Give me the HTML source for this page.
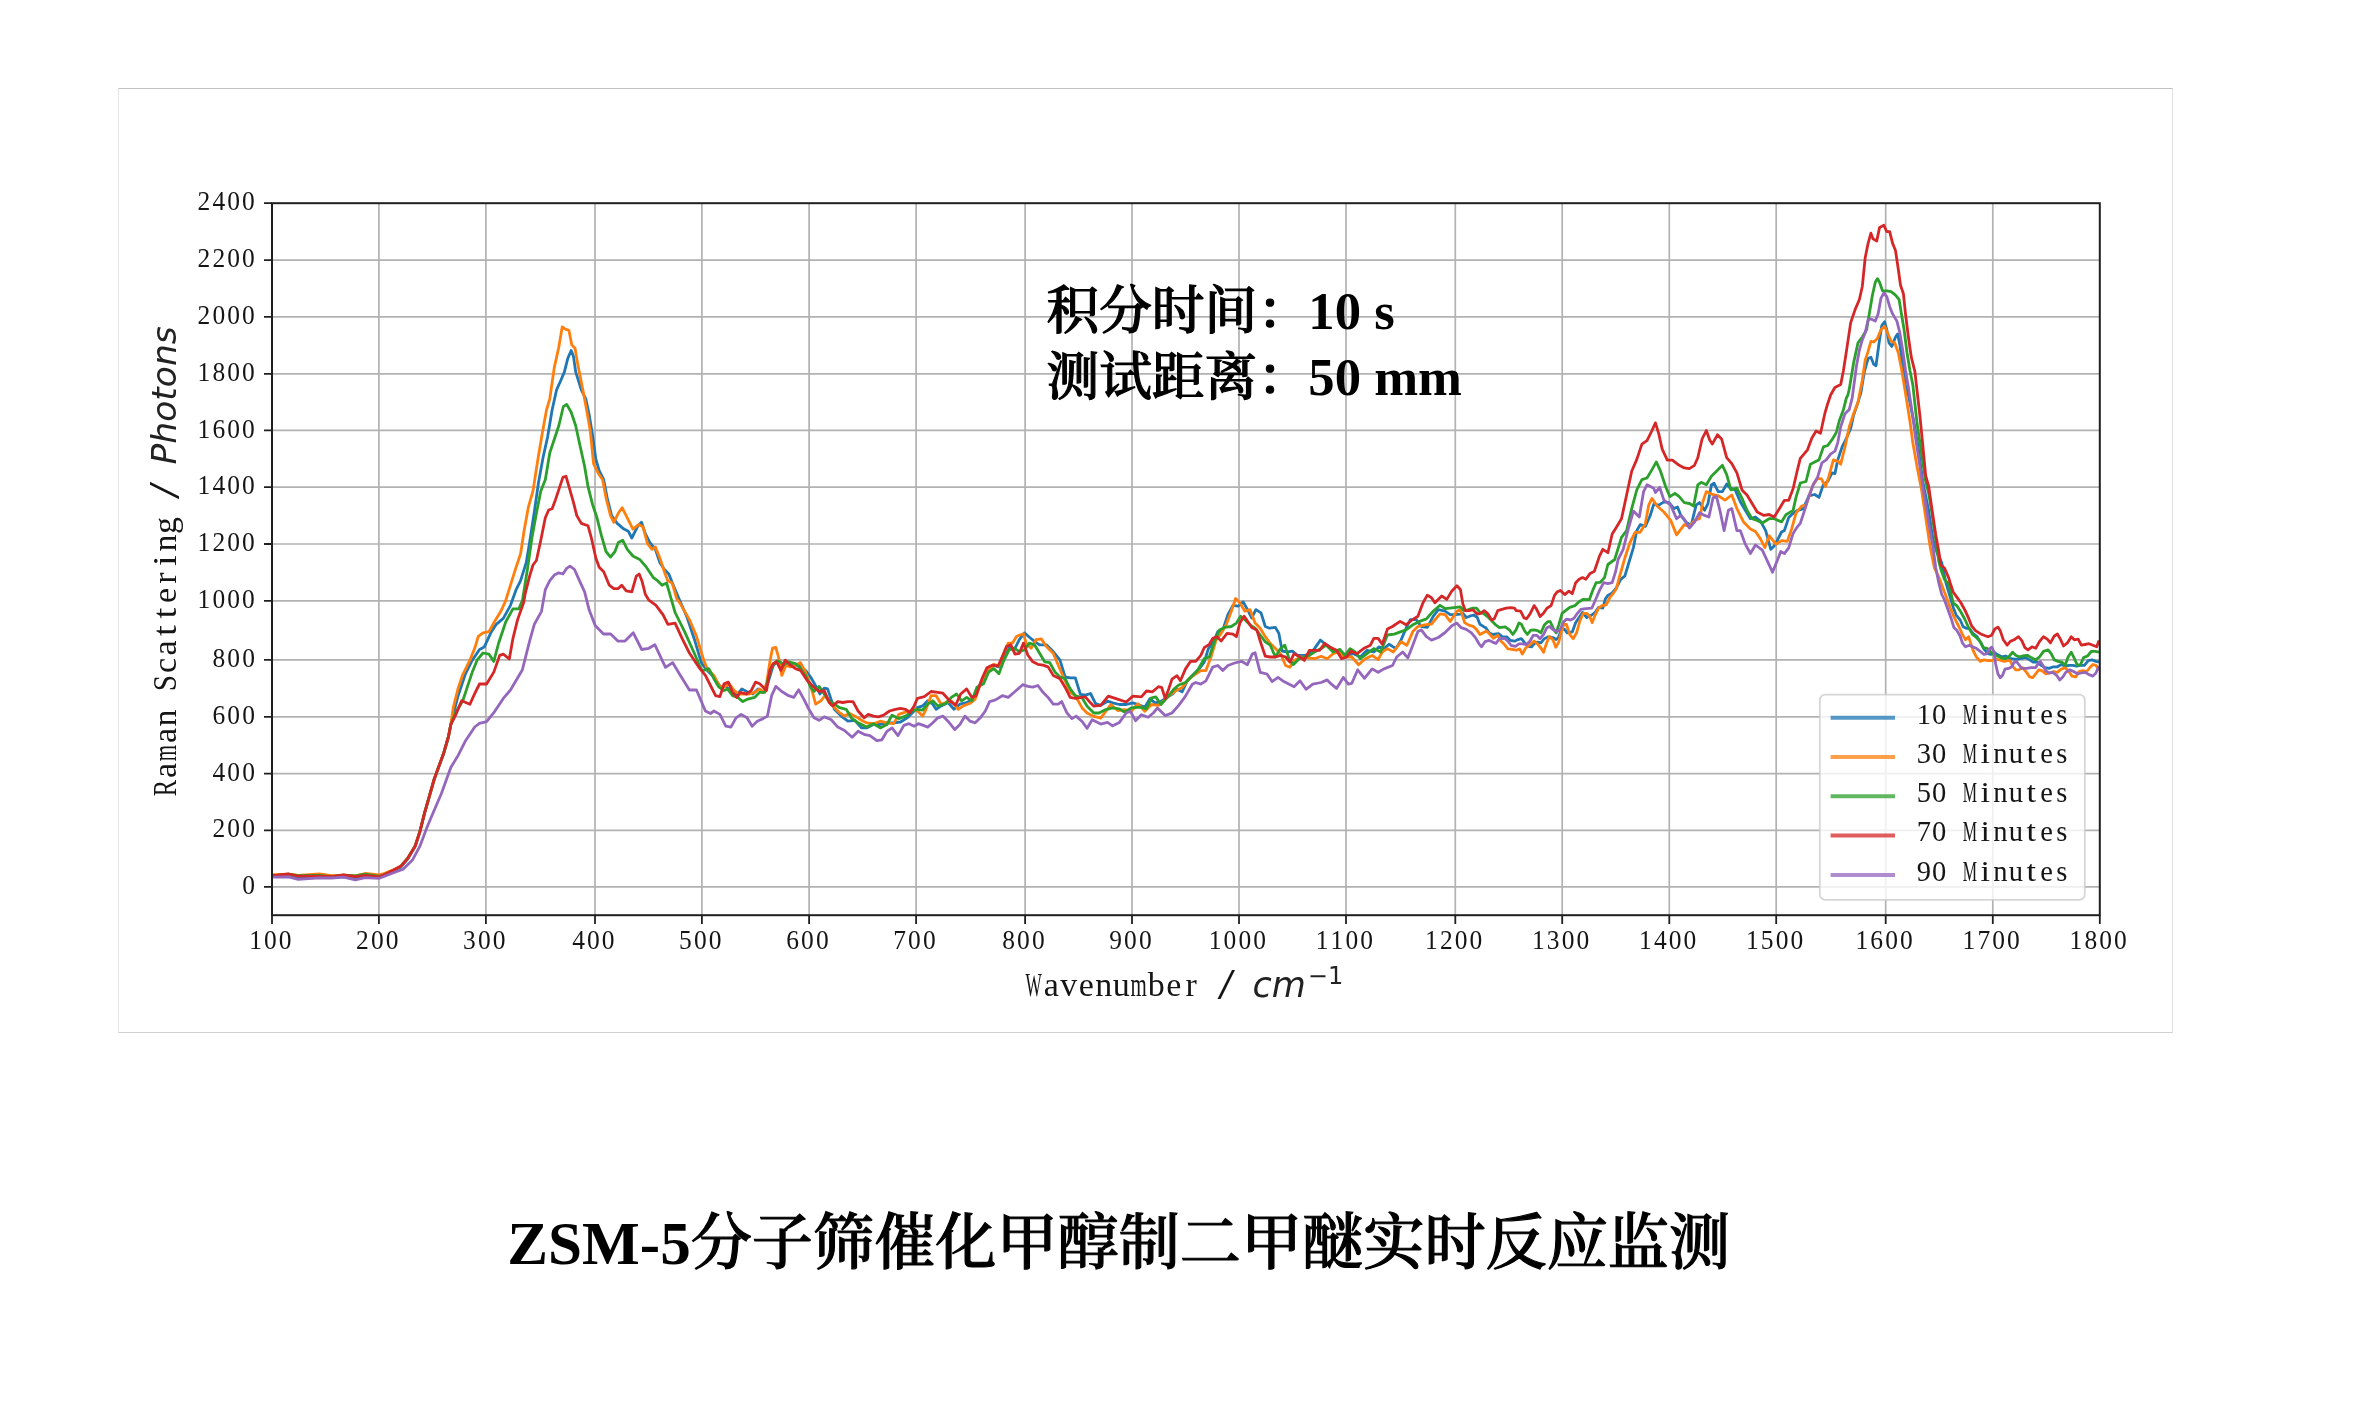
<!DOCTYPE html><html lang="zh"><head><meta charset="utf-8"><title>ZSM-5分子筛催化甲醇制二甲醚实时反应监测</title>
<style>
html,body{margin:0;padding:0;background:#fff}
body{width:2358px;height:1425px;position:relative;overflow:hidden}
svg{position:absolute;left:0;top:0;display:block;filter:blur(0.55px)}
.cap{position:absolute;margin:0;white-space:nowrap;color:#000;font-weight:bold;font-family:"Liberation Serif","Noto Serif CJK SC",serif}
#frame{position:absolute;left:118px;top:88px;width:2053px;height:943px;border:1px solid;border-color:#c2c2c2 #e0e0e0 #d0d0d0 #e6e6e6;background:#fff}
#title{left:507.3px;top:1209.3px;font-size:61.15px;line-height:70px}
#note{left:1046.5px;font-size:52.7px;line-height:66.3px}
.co{letter-spacing:-1.6px}
.cj{font-weight:500;-webkit-text-stroke:1.15px #000}
</style></head><body>
<div id="frame"></div>
<svg width="2358" height="1425" viewBox="0 0 2358 1425">
<path d="M378.9 203.2V915.2M485.9 203.2V915.2M595.0 203.2V915.2M701.9 203.2V915.2M809.1 203.2V915.2M916.1 203.2V915.2M1025.1 203.2V915.2M1132.0 203.2V915.2M1239.0 203.2V915.2M1346.0 203.2V915.2M1455.3 203.2V915.2M1562.2 203.2V915.2M1669.3 203.2V915.2M1776.2 203.2V915.2M1885.7 203.2V915.2M1992.8 203.2V915.2M272.0 886.9H2099.8M272.0 830.3H2099.8M272.0 773.6H2099.8M272.0 716.8H2099.8M272.0 659.8H2099.8M272.0 600.9H2099.8M272.0 544.0H2099.8M272.0 487.2H2099.8M272.0 430.4H2099.8M272.0 373.8H2099.8M272.0 316.8H2099.8M272.0 260.1H2099.8" stroke="#b2b2b2" stroke-width="1.7" fill="none"/>
<g fill="none" stroke-width="2.8" stroke-linejoin="round" stroke-linecap="butt">
<polyline points="273.1,875.7 288.6,875.7 298.2,877.8 319.6,875.8 331.6,876.8 343.5,876.5 355.4,878.3 365.0,876.0 379.3,876.4 384.0,874.7 393.6,870.7 400.7,867.3 407.9,858.8 415.1,846.6 419.8,832.1 424.6,812.9 429.4,796.2 434.1,779.5 438.9,766.3 443.7,753.2 448.5,736.5 450.8,724.6 453.2,715.1 458.0,696.0 465.2,674.5 472.3,660.2 479.5,649.5 484.2,647.1 491.4,631.6 496.2,624.4 503.3,618.4 510.5,605.3 516.1,589.7 520.6,580.7 526.2,562.7 529.6,542.5 534.1,513.3 538.6,481.9 543.1,457.2 547.6,437.0 552.1,410.0 556.6,389.8 561.1,379.7 564.4,371.9 567.8,358.4 571.2,350.5 573.4,356.1 575.7,371.9 581.3,389.8 585.8,398.8 589.1,414.5 592.5,434.7 595.9,459.4 599.2,470.7 603.7,479.7 607.1,497.6 611.6,515.6 617.2,523.4 623.9,529.1 628.4,531.3 631.8,538.0 637.4,526.8 641.5,522.3 645.3,533.6 649.8,542.5 655.4,549.3 659.9,562.7 664.4,569.5 668.8,574.0 673.3,585.2 679.0,598.7 687.0,617.3 694.2,638.7 701.3,662.6 707.1,670.3 713.9,677.0 720.7,687.2 725.8,685.5 730.9,692.3 737.7,694.0 741.9,688.9 747.9,692.3 752.9,694.0 758.0,688.9 763.1,692.3 768.2,682.1 773.3,665.2 777.5,661.8 781.8,668.6 786.9,661.8 792.0,665.2 798.7,665.2 805.5,670.3 810.6,677.0 817.4,688.9 819.9,694.0 824.2,688.1 827.6,688.9 831.0,699.1 834.4,709.3 841.2,716.1 847.9,721.2 854.7,720.3 861.5,727.9 866.6,727.9 873.4,724.5 880.2,724.5 887.0,722.8 893.7,722.8 900.5,722.0 907.3,717.8 912.4,712.7 917.5,707.6 922.6,705.9 927.7,700.8 932.8,704.2 936.1,709.3 941.2,705.9 948.0,702.5 954.0,709.3 959.9,704.2 966.7,702.5 973.5,699.1 980.3,683.8 987.0,672.0 993.8,665.2 998.9,666.9 1004.0,655.0 1009.1,648.2 1014.2,649.9 1019.3,639.7 1024.4,632.9 1029.4,637.2 1034.5,641.4 1039.6,644.8 1046.4,644.8 1053.2,651.6 1060.0,660.1 1065.1,677.0 1070.2,677.9 1075.3,677.9 1080.4,694.4 1085.4,695.2 1090.5,693.5 1095.6,703.7 1100.7,705.4 1107.5,701.2 1112.6,702.8 1119.4,704.5 1126.2,704.5 1132.9,702.8 1138.0,704.5 1144.8,707.1 1149.9,698.6 1155.0,702.8 1160.1,702.0 1165.2,698.6 1172.0,694.4 1177.0,689.3 1182.1,691.8 1187.2,680.8 1194.0,674.0 1199.1,668.9 1204.2,662.1 1208.4,648.6 1213.5,641.8 1217.8,631.6 1222.8,629.9 1227.9,614.6 1233.0,605.3 1238.1,606.2 1243.2,601.9 1248.3,611.2 1251.7,618.0 1255.9,609.6 1261.0,612.9 1265.3,626.5 1269.5,628.2 1275.4,627.4 1278.8,633.3 1282.2,651.1 1287.3,652.0 1292.4,651.1 1297.5,655.4 1304.3,655.4 1309.4,654.5 1314.5,648.6 1320.4,640.1 1324.6,643.5 1329.7,646.9 1334.8,650.3 1339.9,652.0 1346.7,655.4 1353.5,653.7 1360.3,657.0 1367.0,650.3 1373.8,652.0 1378.9,646.9 1384.0,648.6 1389.1,644.3 1395.9,648.6 1401.0,640.1 1406.1,628.2 1410.3,619.7 1416.2,619.7 1421.3,626.5 1427.3,627.4 1433.2,616.3 1438.3,609.6 1445.1,611.2 1450.2,614.6 1455.3,614.6 1460.4,614.1 1462.9,613.3 1466.3,617.5 1469.7,616.2 1473.9,615.0 1477.3,617.5 1479.9,624.3 1483.3,626.4 1485.8,627.7 1489.2,632.8 1492.6,634.5 1498.5,633.6 1502.8,637.0 1507.0,637.0 1510.4,640.4 1514.6,641.2 1518.0,639.6 1521.4,638.7 1524.8,642.9 1528.2,646.3 1531.6,646.8 1534.1,643.8 1537.5,642.1 1540.9,642.9 1544.3,638.7 1547.7,637.0 1550.3,637.0 1553.7,637.9 1556.2,639.6 1558.7,637.0 1561.3,629.4 1564.7,629.4 1567.2,632.8 1572.3,631.9 1575.7,622.6 1579.1,617.5 1582.5,612.4 1586.7,617.5 1591.8,615.0 1595.2,612.4 1598.6,607.3 1602.8,608.2 1605.4,598.8 1607.9,595.4 1612.2,592.9 1616.4,587.8 1620.7,579.3 1624.9,575.9 1628.3,564.5 1633.4,547.6 1636.8,530.6 1640.2,524.7 1645.3,526.4 1650.3,515.4 1653.7,504.3 1658.8,505.2 1663.9,501.8 1669.0,502.6 1674.1,508.6 1677.5,506.9 1680.9,515.4 1686.0,522.1 1691.1,525.5 1696.1,505.2 1699.5,502.6 1704.6,510.3 1708.0,503.5 1711.4,484.8 1714.0,483.1 1718.2,491.6 1722.4,491.6 1726.7,484.0 1730.1,488.2 1735.2,489.9 1740.3,501.8 1745.3,510.3 1750.4,518.7 1755.5,517.0 1760.6,521.3 1765.7,530.6 1770.8,549.3 1774.2,545.9 1777.2,540.6 1781.5,532.0 1784.4,530.5 1788.7,517.6 1791.6,514.7 1797.4,510.4 1803.2,508.9 1808.9,495.9 1814.7,494.5 1819.0,497.4 1823.4,484.4 1827.7,481.5 1832.0,472.9 1834.9,473.6 1837.8,459.9 1842.1,446.9 1846.4,438.3 1850.7,428.2 1853.6,415.2 1858.0,402.2 1860.8,393.2 1864.4,371.6 1868.1,358.6 1870.9,357.2 1873.8,364.4 1876.0,365.8 1878.9,344.2 1881.8,325.5 1884.6,321.8 1886.8,329.8 1889.0,342.8 1891.8,346.4 1895.5,337.0 1897.6,334.1 1899.8,344.2 1902.7,365.8 1905.5,386.0 1908.4,395.0 1914.2,423.8 1918.5,449.8 1922.8,481.5 1928.6,510.4 1932.9,539.2 1937.3,553.6 1941.6,562.3 1945.9,582.5 1953.2,607.4 1956.2,615.1 1960.1,619.8 1963.2,626.7 1966.3,628.3 1969.4,628.3 1973.2,633.7 1977.1,636.7 1980.9,642.9 1984.0,649.1 1987.9,653.7 1991.0,654.5 1994.1,652.2 1997.2,654.5 2001.8,656.8 2005.6,656.0 2009.5,658.4 2014.1,659.1 2018.0,659.1 2021.8,658.4 2025.7,657.6 2029.6,659.9 2033.4,662.2 2037.3,662.2 2041.1,665.3 2045.0,667.6 2048.9,668.4 2053.5,666.8 2057.4,666.8 2061.2,664.5 2065.1,666.1 2068.9,665.3 2072.8,665.3 2076.7,666.1 2080.5,665.3 2084.4,665.3 2088.2,660.7 2092.1,659.9 2095.9,661.4 2099.0,662.2" stroke="#1f77b4"/>
<polyline points="273.1,874.6 288.6,874.1 298.2,875.5 319.6,874.0 331.6,875.7 343.5,875.1 355.4,875.9 365.0,873.5 379.3,874.9 384.0,873.5 393.6,869.8 400.7,866.3 407.9,857.9 415.1,846.0 419.8,831.8 424.6,812.8 429.4,796.2 434.1,779.5 438.9,766.3 443.7,753.2 448.5,736.5 450.8,724.6 453.2,707.9 458.0,688.8 462.8,674.5 469.9,660.2 474.7,648.3 478.3,636.3 483.0,632.8 489.0,631.6 495.0,620.8 500.9,611.3 505.7,600.6 510.5,585.2 516.1,567.2 520.6,553.8 524.0,531.3 528.5,506.6 533.0,490.9 537.5,461.7 542.0,434.7 546.5,410.0 549.8,398.8 554.3,367.4 558.8,347.2 562.2,326.9 565.5,329.2 568.9,330.3 571.8,344.9 575.0,348.3 577.9,365.1 582.4,387.6 585.8,405.5 590.2,430.2 593.6,463.9 598.1,472.9 602.6,479.7 606.0,497.6 610.5,515.6 613.8,522.3 618.3,513.3 622.1,507.7 627.3,517.8 632.9,529.1 638.5,524.6 643.0,526.8 647.5,543.7 652.0,549.3 655.4,547.0 659.9,558.3 664.4,571.7 667.7,580.7 672.2,583.0 676.7,598.7 679.8,602.9 689.4,619.6 696.5,636.3 703.7,660.1 707.1,668.6 713.9,675.4 719.0,685.5 724.1,687.2 729.2,683.8 734.3,690.6 739.4,694.0 744.5,694.0 749.6,694.0 754.6,692.3 759.7,688.9 763.1,692.3 766.5,683.8 769.9,661.8 772.5,648.2 775.8,647.4 778.4,656.7 781.8,675.4 786.0,665.2 790.3,666.9 795.4,665.2 800.4,662.6 805.5,672.0 810.6,685.5 815.7,704.2 820.8,700.8 825.0,695.7 829.3,702.5 834.4,707.6 839.5,712.7 844.5,716.1 849.6,713.5 856.4,716.9 863.2,721.2 866.6,722.8 873.4,723.7 880.2,721.2 887.0,722.8 893.7,723.7 898.8,714.4 903.9,712.7 909.0,711.0 915.8,709.3 922.6,716.1 926.0,709.3 931.1,695.7 936.1,695.7 941.2,704.2 946.3,702.5 951.4,700.8 958.2,709.3 963.3,705.9 970.1,703.3 975.2,699.1 981.1,682.1 987.0,672.0 993.8,664.3 998.9,666.0 1003.2,655.0 1008.2,643.1 1012.5,643.1 1016.7,636.3 1023.5,633.8 1026.1,643.1 1031.1,648.2 1036.2,639.7 1041.3,638.9 1046.4,646.5 1053.2,653.3 1058.3,665.2 1063.4,677.0 1070.2,692.3 1075.3,695.7 1082.1,707.9 1087.1,713.0 1093.9,716.4 1100.7,718.1 1105.8,711.3 1110.9,704.5 1117.7,710.5 1124.5,709.6 1131.2,711.3 1138.0,703.7 1144.8,711.3 1151.6,704.5 1158.4,705.4 1163.5,701.2 1168.6,696.1 1175.4,691.0 1182.1,687.6 1188.9,679.1 1195.7,674.0 1200.8,670.6 1205.9,670.6 1211.0,657.0 1216.1,640.1 1221.2,633.3 1226.2,624.8 1231.3,611.2 1235.6,598.5 1239.8,602.8 1244.9,611.2 1250.0,609.6 1255.1,623.1 1260.2,628.2 1265.3,636.7 1270.3,643.5 1275.4,648.6 1280.5,653.7 1285.6,665.5 1289.9,667.2 1294.1,660.4 1300.9,657.0 1307.7,657.9 1314.5,658.7 1321.2,656.2 1327.2,658.7 1333.1,653.7 1338.2,652.0 1345.0,657.0 1351.8,657.0 1358.6,664.7 1365.3,658.7 1372.1,655.4 1378.1,659.6 1382.3,652.0 1387.4,648.6 1393.3,652.0 1401.0,641.8 1406.9,645.2 1412.8,631.6 1417.9,626.5 1424.7,624.8 1431.5,624.0 1440.0,613.8 1445.1,614.6 1450.2,621.4 1456.9,611.2 1459.9,609.9 1462.1,614.1 1464.6,622.6 1468.8,625.1 1473.1,626.4 1476.5,629.4 1479.9,634.5 1483.3,632.8 1486.6,631.1 1490.0,634.5 1493.4,638.3 1497.7,635.3 1501.1,641.2 1504.5,644.6 1507.9,648.9 1512.1,649.3 1516.3,650.2 1519.7,648.9 1522.3,654.0 1525.7,648.0 1529.9,644.6 1534.1,641.2 1537.5,643.8 1540.9,648.0 1543.5,652.3 1546.9,642.1 1549.4,636.6 1552.8,639.6 1555.8,647.2 1558.7,642.1 1561.3,631.9 1563.8,624.3 1566.4,624.3 1569.8,634.5 1573.2,638.7 1576.6,632.8 1579.9,620.9 1583.3,613.3 1586.7,613.3 1589.3,615.8 1592.2,622.6 1595.2,615.0 1598.6,608.2 1602.0,605.6 1606.2,604.8 1609.6,598.0 1613.0,593.7 1616.4,588.7 1619.0,578.5 1624.9,557.8 1630.0,542.5 1635.1,532.3 1640.2,532.3 1645.3,523.8 1648.7,505.2 1652.0,498.4 1657.1,506.0 1663.9,512.0 1670.7,520.4 1676.6,534.9 1684.3,524.7 1689.4,526.4 1694.5,520.4 1699.5,518.7 1702.9,501.8 1706.3,491.6 1711.4,494.1 1718.2,495.8 1725.0,500.1 1731.8,495.0 1736.9,508.6 1743.6,522.1 1750.4,528.9 1755.5,531.5 1760.6,539.1 1764.9,547.6 1769.1,535.7 1775.9,544.2 1781.5,540.6 1787.3,541.4 1791.6,529.1 1796.0,513.2 1801.7,506.0 1806.0,505.3 1809.7,494.5 1813.3,484.4 1817.6,478.6 1821.2,478.6 1825.5,486.6 1829.1,475.7 1833.4,459.9 1837.8,461.3 1840.7,464.2 1845.0,446.9 1849.3,426.7 1853.6,413.7 1858.0,402.2 1862.3,380.2 1865.2,360.1 1868.1,351.4 1870.9,341.3 1873.8,342.0 1877.4,338.4 1881.0,329.8 1884.6,326.2 1887.5,332.7 1891.1,341.3 1894.7,342.8 1898.3,352.8 1901.2,367.3 1904.1,384.6 1909.9,421.0 1912.8,442.6 1917.1,467.1 1921.4,488.7 1925.7,517.6 1930.1,546.4 1934.4,568.0 1938.7,576.7 1943.0,588.2 1947.4,600.0 1950.1,607.4 1953.2,615.1 1956.2,621.3 1959.3,627.5 1962.4,634.4 1965.5,639.8 1968.6,636.7 1970.1,641.4 1973.2,650.6 1976.3,656.8 1980.2,661.4 1984.0,659.9 1987.9,660.7 1991.7,660.7 1995.6,659.1 1999.5,659.9 2004.1,661.4 2007.2,660.7 2010.3,660.7 2012.6,666.1 2015.7,669.9 2018.8,669.9 2022.6,667.6 2026.5,672.3 2029.6,676.9 2032.7,677.7 2035.7,673.8 2038.8,669.9 2041.9,670.7 2045.8,673.8 2049.6,673.0 2053.5,671.5 2057.4,672.3 2061.2,669.2 2065.1,667.6 2068.9,671.5 2072.0,676.1 2075.9,676.9 2079.0,671.5 2082.8,670.7 2086.7,671.5 2089.8,667.6 2092.9,664.5 2095.9,665.3 2099.0,669.9" stroke="#ff7f0e"/>
<polyline points="273.1,875.8 288.6,874.1 298.2,875.6 319.6,875.4 331.6,876.7 343.5,875.2 355.4,876.0 365.0,874.2 379.3,876.3 384.0,874.8 393.6,870.3 400.7,866.4 407.9,857.9 415.1,846.1 419.8,831.9 424.6,812.9 429.4,796.2 434.1,779.5 438.9,766.3 443.7,753.2 448.5,736.5 450.8,724.6 455.6,712.7 462.8,700.7 467.5,686.4 472.3,672.1 477.1,660.2 483.0,653.0 489.0,654.2 493.8,661.4 498.5,643.5 505.7,622.0 512.9,608.9 518.8,608.9 522.4,600.6 527.4,569.5 531.9,538.0 536.4,513.3 540.8,490.9 545.3,479.7 549.8,452.7 554.3,439.2 558.8,425.8 563.3,406.7 566.7,404.4 571.2,412.3 575.7,425.8 580.1,446.0 584.6,466.2 588.0,486.4 592.5,504.4 597.0,517.8 601.5,535.8 606.0,551.5 610.5,557.1 615.0,551.5 618.3,542.5 622.8,540.3 627.3,549.3 632.9,556.0 639.7,559.4 646.4,567.2 653.1,577.3 657.6,580.7 662.1,585.2 666.6,583.0 671.1,598.7 675.1,612.5 684.6,631.6 694.2,653.0 701.3,669.7 703.7,670.3 708.8,668.6 713.9,678.7 719.0,687.2 724.1,690.6 727.5,688.9 732.6,695.7 737.7,697.4 742.8,701.6 747.9,699.1 754.6,697.4 759.7,692.3 764.8,692.3 768.2,678.7 772.5,665.2 776.7,660.9 780.1,661.8 783.5,665.2 788.6,661.8 795.4,663.5 800.4,668.6 805.5,675.4 810.6,687.2 814.0,691.5 819.1,686.4 824.2,694.0 829.3,700.8 834.4,704.2 839.5,707.6 846.2,709.3 851.3,717.8 858.1,722.8 866.6,727.1 873.4,723.7 880.2,727.9 887.0,724.5 892.0,715.2 898.8,718.6 905.6,716.1 912.4,711.0 917.5,709.3 922.6,710.1 927.7,704.2 932.8,700.8 937.8,705.9 944.6,704.2 951.4,697.4 956.5,694.0 961.6,700.8 966.7,697.4 971.8,700.8 976.9,687.2 983.6,683.8 988.7,672.0 993.8,668.6 998.9,673.7 1004.0,660.1 1009.1,649.9 1014.2,648.2 1019.3,651.6 1024.4,649.9 1029.4,643.1 1034.5,644.8 1039.6,653.3 1044.7,661.8 1049.8,662.6 1054.9,672.0 1060.0,677.0 1065.1,678.7 1070.2,688.9 1075.3,695.7 1082.1,697.8 1087.1,706.2 1093.9,713.0 1099.0,713.0 1105.8,709.6 1112.6,707.9 1119.4,708.8 1124.5,712.2 1131.2,707.9 1139.7,707.1 1146.5,708.8 1151.6,697.8 1155.8,696.9 1160.9,704.5 1166.9,697.8 1173.7,689.3 1178.7,685.0 1185.5,682.5 1192.3,675.7 1197.4,670.6 1204.2,658.7 1209.3,657.0 1214.4,641.8 1219.5,629.9 1224.5,627.4 1231.3,626.5 1236.4,623.1 1240.7,616.3 1244.9,619.7 1250.0,624.8 1255.1,628.2 1260.2,635.0 1265.3,641.8 1270.3,645.2 1275.4,657.0 1280.5,648.6 1284.8,645.2 1289.0,658.7 1293.2,664.7 1299.2,658.7 1304.3,657.0 1309.4,655.4 1316.1,651.1 1321.2,648.6 1326.3,645.2 1333.1,652.0 1339.9,649.4 1345.0,655.4 1350.1,648.6 1355.2,652.0 1360.3,658.7 1367.0,653.7 1373.8,648.6 1380.6,652.0 1387.4,635.0 1394.2,634.1 1401.0,631.6 1406.1,629.9 1412.8,624.8 1419.6,621.4 1426.4,618.9 1433.2,611.2 1440.0,605.3 1445.1,608.7 1451.9,607.9 1460.4,606.9 1463.7,610.7 1468.0,609.9 1472.2,608.2 1476.5,608.2 1479.9,612.4 1483.3,613.3 1487.5,616.6 1490.9,620.0 1495.1,624.3 1499.4,627.7 1505.3,626.8 1509.6,630.2 1512.9,634.5 1516.3,629.4 1518.9,623.0 1521.4,624.3 1524.8,631.1 1527.4,634.5 1530.8,630.2 1534.1,629.8 1537.5,630.6 1540.9,632.8 1544.3,625.1 1547.7,621.7 1550.3,621.7 1553.7,629.4 1556.2,632.8 1558.7,625.1 1562.1,613.3 1565.5,610.7 1569.8,607.3 1574.9,605.6 1579.1,601.8 1583.3,599.3 1589.3,599.7 1592.7,590.4 1596.1,582.7 1600.3,582.3 1604.5,577.6 1607.9,564.5 1614.7,559.5 1621.5,537.4 1626.6,530.6 1631.7,508.6 1636.8,489.9 1641.9,479.7 1647.0,478.0 1652.0,469.6 1656.3,461.9 1660.5,471.2 1665.6,486.5 1669.9,496.7 1674.9,493.3 1679.2,496.7 1684.3,502.6 1689.4,503.5 1693.6,506.0 1697.8,484.8 1701.2,482.3 1706.3,484.8 1711.4,476.3 1716.5,471.2 1722.4,465.3 1726.7,474.6 1730.9,489.9 1736.9,488.2 1742.0,498.4 1747.0,510.3 1752.1,518.7 1757.2,520.4 1762.3,523.0 1769.1,518.7 1774.2,518.7 1781.5,521.9 1785.9,514.7 1793.1,510.4 1796.0,497.4 1800.3,483.0 1806.0,481.5 1810.4,464.2 1816.1,461.3 1819.0,459.9 1823.4,446.9 1827.7,445.5 1832.0,439.7 1836.3,432.5 1839.2,421.0 1843.5,409.4 1846.4,397.9 1847.9,395.0 1849.3,388.9 1853.6,362.9 1858.0,342.8 1862.3,337.0 1866.6,329.8 1869.5,312.5 1872.4,295.2 1875.3,282.2 1877.4,278.6 1879.6,282.2 1882.5,290.8 1886.8,290.8 1891.1,291.6 1895.5,295.2 1899.1,299.5 1901.2,312.5 1904.1,329.8 1907.0,352.8 1909.9,370.2 1912.8,384.6 1917.1,423.8 1921.4,452.7 1925.7,481.5 1928.6,493.1 1931.5,510.4 1935.8,540.6 1938.7,560.8 1940.9,569.5 1944.5,579.6 1948.8,583.9 1953.2,602.8 1957.0,605.9 1960.9,612.0 1964.7,619.0 1968.6,627.5 1972.5,634.4 1976.3,637.5 1980.2,641.4 1983.3,647.6 1987.1,648.3 1991.0,652.2 1994.8,655.3 1998.7,656.4 2002.6,658.4 2005.6,658.7 2009.5,656.0 2012.6,652.2 2015.7,655.3 2018.8,656.8 2022.6,656.0 2027.3,655.3 2031.1,657.6 2035.7,659.9 2039.6,656.8 2043.5,651.4 2048.1,649.9 2051.2,653.7 2054.3,659.9 2058.1,661.4 2062.0,662.2 2065.1,665.3 2068.2,656.8 2071.2,652.2 2074.3,658.4 2077.4,665.3 2080.5,664.5 2083.6,657.6 2087.5,656.0 2091.3,651.4 2095.2,651.4 2099.0,652.2" stroke="#2ca02c"/>
<polyline points="273.1,875.7 288.6,874.0 298.2,876.1 319.6,876.2 331.6,876.6 343.5,875.0 355.4,876.7 365.0,875.4 379.3,876.8 384.0,874.9 393.6,870.0 400.7,866.3 407.9,858.1 415.1,846.3 419.8,832.0 424.6,812.9 429.4,796.2 434.1,779.5 438.9,766.3 443.7,753.2 448.5,736.5 450.8,724.6 455.6,715.1 461.6,700.7 469.9,704.3 474.7,693.6 479.5,684.0 486.6,684.0 493.8,672.1 499.7,655.4 503.3,654.2 509.3,659.0 512.9,638.7 517.6,619.6 523.6,602.9 525.1,594.2 529.6,576.2 533.0,565.0 536.4,560.5 540.8,540.3 545.3,517.8 548.7,510.0 552.1,508.8 555.4,499.9 559.9,486.4 562.9,477.4 566.0,476.3 568.9,486.4 573.4,502.1 576.8,515.6 581.3,523.4 588.0,525.7 591.4,538.0 595.9,558.3 599.2,567.2 603.7,571.7 609.3,585.2 613.8,588.6 618.3,588.6 621.7,585.2 626.2,590.8 631.8,591.9 636.3,576.2 639.2,574.0 641.9,580.7 645.3,594.2 648.6,599.8 656.0,605.3 663.1,614.9 667.9,624.4 675.1,623.2 682.2,638.7 689.4,653.0 698.9,667.3 705.4,675.4 710.5,685.5 715.6,695.7 719.9,696.6 724.1,683.8 728.3,682.1 732.6,692.3 736.8,697.4 740.2,692.3 746.2,694.0 751.2,690.6 755.5,682.1 759.7,683.8 766.5,690.6 769.9,670.3 773.3,663.5 776.7,661.8 780.9,670.3 785.2,660.1 790.3,665.2 795.4,668.6 800.4,670.3 807.2,680.4 814.0,687.2 819.1,691.5 824.2,690.6 829.3,702.5 832.7,705.9 837.8,701.6 842.8,702.5 847.9,701.6 853.0,701.6 858.1,711.0 864.1,717.8 868.3,714.4 873.4,716.1 878.5,716.9 883.6,715.2 889.5,711.0 895.4,709.3 900.5,708.4 905.6,709.3 909.9,712.7 914.1,705.9 917.5,698.3 924.3,696.6 931.1,691.5 937.8,692.3 942.9,693.2 949.7,700.8 955.7,705.0 960.7,694.0 966.7,688.9 971.8,697.4 976.0,695.7 982.0,678.7 987.0,667.7 992.1,665.2 998.1,666.0 1002.3,656.7 1006.5,646.5 1010.8,644.8 1015.0,654.1 1019.3,653.3 1023.5,643.1 1027.8,655.0 1032.8,661.8 1037.9,664.3 1043.0,665.2 1048.1,666.9 1053.2,675.4 1060.0,678.7 1065.1,687.2 1070.2,697.4 1075.3,698.3 1085.4,696.9 1090.5,702.8 1093.9,706.2 1100.7,705.4 1108.3,696.1 1116.0,698.6 1126.2,702.0 1132.9,696.1 1141.4,696.9 1146.5,691.0 1152.5,691.8 1158.4,686.7 1161.8,687.6 1165.2,698.6 1168.6,689.3 1172.0,679.1 1177.0,675.7 1180.4,680.8 1185.5,668.9 1190.6,661.3 1195.7,661.3 1200.8,655.4 1204.2,647.7 1209.3,644.3 1212.7,638.4 1216.9,636.7 1221.2,640.9 1227.1,633.3 1233.0,634.1 1236.4,636.7 1239.8,623.1 1244.1,616.3 1246.6,619.7 1251.7,627.4 1256.8,629.9 1261.0,643.5 1265.3,656.2 1270.3,657.0 1275.4,657.0 1280.5,655.4 1285.6,657.0 1289.9,662.1 1294.1,653.7 1297.5,655.4 1304.3,660.4 1309.4,650.3 1314.5,650.3 1319.5,650.3 1324.6,643.5 1329.7,646.9 1336.5,650.3 1341.6,658.7 1346.7,657.0 1350.9,651.1 1356.9,653.7 1363.6,648.6 1370.4,645.2 1373.8,638.4 1378.1,638.4 1382.3,644.3 1387.4,629.1 1392.5,626.5 1400.1,621.4 1406.1,624.8 1411.1,620.6 1417.9,616.3 1423.0,602.8 1427.3,595.1 1431.5,597.7 1434.9,602.8 1441.7,596.0 1446.8,599.4 1451.9,590.9 1456.9,585.8 1460.4,589.5 1462.9,603.9 1465.4,610.7 1468.8,610.7 1473.1,609.9 1477.3,614.1 1480.7,613.3 1484.1,610.7 1487.5,613.3 1491.7,620.0 1494.3,618.8 1497.7,610.7 1501.9,609.4 1506.2,608.2 1510.4,607.7 1514.6,608.2 1516.3,610.7 1520.6,611.1 1524.0,617.9 1526.5,618.8 1529.9,614.1 1534.1,605.6 1536.7,609.4 1540.1,616.6 1543.5,613.3 1546.9,608.2 1551.1,605.6 1554.5,595.4 1557.0,592.1 1560.4,590.4 1564.7,594.6 1568.9,591.2 1572.3,593.7 1575.7,582.7 1579.1,579.3 1582.5,577.6 1585.9,579.3 1590.1,573.4 1594.4,571.3 1599.5,556.1 1602.8,549.3 1607.9,552.7 1612.2,534.0 1616.4,527.2 1621.5,518.7 1626.6,495.0 1631.7,471.2 1636.8,459.4 1641.9,444.1 1647.0,440.7 1652.0,430.5 1655.4,422.9 1658.8,433.9 1662.2,449.2 1667.3,460.2 1672.4,460.2 1679.2,465.3 1684.3,467.9 1689.4,468.7 1694.5,465.3 1697.8,457.7 1702.1,439.0 1706.3,430.5 1709.7,439.9 1712.3,444.1 1717.4,434.8 1721.6,439.0 1726.7,457.7 1731.8,463.6 1736.9,472.9 1742.0,489.9 1747.0,495.0 1752.1,503.5 1757.2,512.0 1764.0,515.4 1769.1,514.5 1774.2,517.0 1780.1,507.5 1784.4,500.3 1788.7,500.3 1793.1,488.7 1797.4,470.0 1800.3,458.4 1807.5,449.8 1811.8,438.3 1816.1,431.0 1820.5,433.2 1824.8,413.7 1827.7,403.7 1830.6,395.0 1834.9,387.5 1840.7,384.6 1843.5,370.2 1846.4,351.4 1850.7,322.6 1855.1,309.6 1859.4,299.5 1862.3,286.5 1865.2,257.7 1868.1,243.3 1870.9,233.2 1873.1,238.9 1876.7,241.1 1879.6,227.4 1883.9,225.2 1886.8,231.7 1889.7,231.7 1892.6,243.3 1895.5,250.5 1898.3,269.2 1900.5,285.1 1903.4,293.7 1905.5,313.9 1908.4,337.0 1911.3,357.2 1914.9,371.6 1920.0,416.6 1922.8,445.5 1925.7,475.7 1928.6,485.8 1931.5,506.0 1935.8,534.9 1938.7,550.7 1940.9,565.2 1944.5,568.0 1948.8,578.1 1950.1,582.7 1953.2,592.0 1957.0,597.4 1960.9,602.8 1964.7,609.7 1968.6,618.2 1971.7,625.9 1975.5,630.6 1980.2,633.7 1984.0,635.2 1987.9,636.7 1991.7,635.2 1994.8,629.0 1997.9,627.1 2000.2,630.6 2003.3,639.8 2007.2,645.2 2010.3,641.4 2014.1,639.8 2018.4,636.7 2021.8,640.6 2024.9,647.6 2028.0,649.9 2031.9,646.8 2035.7,648.3 2039.6,641.4 2043.5,636.7 2047.3,639.1 2050.4,642.9 2054.3,636.0 2057.4,634.0 2060.4,639.1 2063.5,646.0 2067.4,642.9 2071.2,636.7 2074.3,639.8 2078.2,639.1 2081.3,645.2 2085.1,644.5 2089.0,643.7 2092.9,645.2 2096.7,646.8 2099.0,640.6" stroke="#d62728"/>
<polyline points="273.1,877.2 288.6,876.8 298.2,879.3 319.6,877.8 331.6,878.0 343.5,877.2 355.4,879.8 365.0,877.7 379.3,878.3 393.6,872.7 403.1,869.2 412.7,859.7 419.8,846.4 427.0,827.2 434.1,810.5 441.3,793.8 450.8,767.5 458.0,755.6 465.2,741.3 474.7,727.0 479.5,723.4 486.6,721.7 493.8,712.7 503.3,698.4 510.5,690.0 522.4,669.7 529.6,641.1 534.3,624.4 541.5,611.3 545.3,589.7 549.8,580.7 554.3,575.1 558.8,572.8 562.9,574.0 566.7,568.4 570.0,566.1 574.5,569.5 579.0,579.6 584.6,591.9 589.2,610.1 595.2,625.6 603.5,634.0 610.7,634.0 617.8,641.1 625.0,641.1 633.3,632.8 641.7,649.5 648.8,648.3 654.8,644.7 665.5,667.3 672.7,662.6 679.8,674.5 689.4,690.0 696.5,690.0 705.4,711.0 710.5,713.5 713.9,711.0 719.9,714.4 725.8,726.2 730.9,727.1 736.0,717.8 741.1,714.4 747.0,717.8 752.1,726.2 757.2,721.2 763.1,718.6 767.4,716.1 771.6,695.7 775.8,686.4 781.8,691.5 788.6,695.7 793.7,697.4 798.7,689.8 803.8,699.1 808.9,709.3 814.0,717.8 819.1,720.3 824.2,716.9 831.0,719.5 837.8,727.1 844.5,730.5 852.2,737.3 858.1,731.3 864.9,734.7 870.0,735.6 876.8,740.7 881.9,739.8 887.0,731.3 892.0,727.9 898.0,735.6 903.9,725.4 909.0,723.7 914.1,726.2 918.3,723.7 923.4,725.4 927.7,727.1 932.8,722.8 937.8,717.8 942.9,716.1 948.0,721.2 954.8,729.6 959.9,724.5 965.0,716.1 970.1,721.2 975.2,722.8 980.3,717.8 985.3,711.0 989.6,701.6 995.5,699.9 1002.3,695.7 1008.2,697.4 1014.2,692.3 1022.7,684.7 1027.8,686.4 1032.8,687.2 1037.9,685.5 1043.0,692.3 1048.1,697.4 1053.2,704.2 1058.3,704.2 1061.7,701.6 1066.8,712.7 1071.9,718.6 1076.1,716.1 1082.1,721.5 1087.1,728.3 1092.2,719.8 1100.7,724.1 1107.5,722.4 1112.6,725.8 1119.4,722.4 1126.2,713.0 1130.4,711.3 1135.5,720.7 1141.4,714.7 1148.2,717.3 1153.3,713.0 1157.5,707.9 1165.2,715.6 1172.0,713.0 1178.7,705.4 1185.5,696.1 1192.3,684.2 1195.7,682.5 1200.8,684.2 1205.9,680.8 1212.7,667.2 1217.8,665.5 1222.8,670.6 1227.9,665.5 1234.7,663.0 1241.5,661.3 1247.4,664.7 1252.5,653.7 1255.1,652.8 1260.2,672.3 1267.0,674.0 1272.0,681.6 1278.0,677.4 1283.9,681.6 1294.1,686.7 1300.0,680.8 1306.0,689.3 1312.8,684.2 1321.2,682.5 1327.2,679.9 1331.4,684.2 1336.5,688.4 1343.3,677.4 1348.4,684.2 1351.8,683.3 1357.7,669.8 1364.5,678.3 1372.1,668.9 1378.1,672.3 1384.0,668.9 1392.5,665.5 1396.7,657.0 1402.7,652.0 1407.8,657.9 1412.8,645.2 1417.9,631.6 1421.3,629.9 1426.4,636.7 1431.5,640.1 1438.3,637.5 1445.1,632.5 1451.9,625.7 1456.9,623.1 1461.2,627.7 1466.3,629.4 1471.4,632.8 1475.6,637.9 1479.0,643.8 1481.6,646.8 1485.0,641.7 1489.2,640.4 1492.6,642.1 1496.0,643.4 1499.4,638.7 1504.5,638.3 1507.9,641.2 1511.2,645.5 1515.5,646.3 1518.9,643.8 1523.1,643.8 1526.5,644.6 1529.9,641.2 1533.3,635.3 1536.7,635.3 1540.1,638.7 1543.5,634.5 1546.9,627.7 1549.4,626.4 1552.8,629.4 1557.0,631.5 1560.4,629.4 1563.0,622.6 1566.4,619.2 1570.6,620.0 1574.0,618.3 1577.4,613.3 1580.8,609.4 1585.9,608.6 1591.8,608.2 1595.2,600.5 1599.5,590.4 1603.7,582.7 1607.9,583.6 1612.2,582.7 1615.6,571.7 1618.1,559.5 1623.2,549.3 1628.3,528.9 1633.4,511.1 1639.3,517.0 1643.6,491.6 1647.0,484.8 1653.7,488.2 1655.4,492.5 1659.7,487.4 1663.9,500.1 1670.7,505.2 1676.6,518.7 1680.9,515.4 1685.1,520.4 1689.4,528.1 1694.5,522.1 1699.5,512.8 1704.6,515.4 1708.9,517.0 1713.1,497.5 1716.5,496.7 1719.9,510.3 1724.1,530.6 1728.4,510.3 1731.8,508.6 1736.9,530.6 1740.3,530.6 1745.3,544.2 1750.4,553.5 1755.5,545.0 1762.3,550.1 1767.4,561.2 1772.5,572.2 1777.2,560.8 1780.8,551.5 1784.4,553.6 1788.7,547.8 1793.1,533.4 1796.7,527.7 1800.3,523.3 1804.6,510.4 1808.9,495.9 1813.3,484.4 1817.6,477.2 1821.9,462.8 1826.2,459.9 1830.6,454.1 1834.9,451.2 1837.8,442.6 1840.7,426.7 1845.0,413.7 1849.3,409.4 1852.2,397.9 1853.6,387.5 1856.5,365.8 1859.4,350.0 1862.3,339.9 1865.2,332.7 1868.1,319.7 1870.9,319.0 1875.3,321.1 1878.1,313.9 1881.0,298.1 1883.9,293.0 1886.8,296.6 1889.7,306.7 1892.6,313.9 1896.9,321.1 1899.8,332.7 1902.7,350.0 1905.5,370.2 1908.4,387.5 1912.8,416.6 1915.6,438.3 1920.0,467.1 1924.3,495.9 1928.6,521.9 1932.9,546.4 1935.8,568.0 1938.7,582.5 1941.6,594.0 1944.5,600.0 1951.6,619.8 1953.9,627.5 1957.0,630.6 1960.1,636.0 1962.4,642.9 1965.5,646.8 1969.4,645.2 1972.5,646.8 1976.3,648.3 1980.2,651.4 1984.0,654.5 1987.1,653.7 1989.4,649.1 1991.7,647.2 1994.1,652.2 1995.6,663.8 1997.9,673.8 2000.2,677.7 2002.6,675.3 2004.9,669.2 2008.7,668.4 2011.8,666.8 2014.1,662.2 2016.4,661.4 2018.8,664.5 2021.8,668.4 2026.5,668.4 2031.1,667.6 2035.7,667.6 2038.1,663.8 2040.4,661.4 2042.7,665.3 2045.8,670.7 2048.9,673.0 2052.7,672.3 2056.6,675.3 2059.7,680.0 2062.8,676.9 2065.8,672.3 2069.7,669.9 2073.6,671.5 2077.4,673.8 2081.3,673.0 2085.1,672.3 2089.0,674.6 2092.9,676.1 2095.9,673.0 2099.0,666.1" stroke="#9467bd"/>
</g>
<path d="M272.0 915.2v8.8M378.9 915.2v8.8M485.9 915.2v8.8M595.0 915.2v8.8M701.9 915.2v8.8M809.1 915.2v8.8M916.1 915.2v8.8M1025.1 915.2v8.8M1132.0 915.2v8.8M1239.0 915.2v8.8M1346.0 915.2v8.8M1455.3 915.2v8.8M1562.2 915.2v8.8M1669.3 915.2v8.8M1776.2 915.2v8.8M1885.7 915.2v8.8M1992.8 915.2v8.8M2099.8 915.2v8.8M272.0 886.9h-8.0M272.0 830.3h-8.0M272.0 773.6h-8.0M272.0 716.8h-8.0M272.0 659.8h-8.0M272.0 600.9h-8.0M272.0 544.0h-8.0M272.0 487.2h-8.0M272.0 430.4h-8.0M272.0 373.8h-8.0M272.0 316.8h-8.0M272.0 260.1h-8.0M272.0 203.2h-8.0" stroke="#1f1f1f" stroke-width="1.8" fill="none"/>
<rect x="272.0" y="203.2" width="1827.8" height="712.0" fill="none" stroke="#1f1f1f" stroke-width="2"/>
<rect x="1819.8" y="694.6" width="265" height="205.2" rx="5.5" fill="#fff" fill-opacity="0.8" stroke="#ccc" stroke-opacity="0.8" stroke-width="1.8"/>
<path d="M1830.6 717.7H1895" stroke="#1f77b4" stroke-width="4" stroke-opacity="0.75"/>
<path d="M1830.6 757.0H1895" stroke="#ff7f0e" stroke-width="4" stroke-opacity="0.75"/>
<path d="M1830.6 796.3H1895" stroke="#2ca02c" stroke-width="4" stroke-opacity="0.75"/>
<path d="M1830.6 835.6H1895" stroke="#d62728" stroke-width="4" stroke-opacity="0.75"/>
<path d="M1830.6 874.9H1895" stroke="#9467bd" stroke-width="4" stroke-opacity="0.75"/>
<g font-family="'Liberation Serif',serif" fill="#151515" text-anchor="middle">
<text transform="translate(1923.8 723.5)" x="0.0 15.3 30.7 46.0 61.4 76.7 92.0 107.4 122.7 138.1" y="0" font-size="28.5" >10 <tspan textLength="14.3" lengthAdjust="spacingAndGlyphs">M</tspan><tspan textLength="9.5" lengthAdjust="spacingAndGlyphs">i</tspan>nu<tspan textLength="9.5" lengthAdjust="spacingAndGlyphs">t</tspan>es</text>
<text transform="translate(1923.8 762.8)" x="0.0 15.3 30.7 46.0 61.4 76.7 92.0 107.4 122.7 138.1" y="0" font-size="28.5" >30 <tspan textLength="14.3" lengthAdjust="spacingAndGlyphs">M</tspan><tspan textLength="9.5" lengthAdjust="spacingAndGlyphs">i</tspan>nu<tspan textLength="9.5" lengthAdjust="spacingAndGlyphs">t</tspan>es</text>
<text transform="translate(1923.8 802.1)" x="0.0 15.3 30.7 46.0 61.4 76.7 92.0 107.4 122.7 138.1" y="0" font-size="28.5" >50 <tspan textLength="14.3" lengthAdjust="spacingAndGlyphs">M</tspan><tspan textLength="9.5" lengthAdjust="spacingAndGlyphs">i</tspan>nu<tspan textLength="9.5" lengthAdjust="spacingAndGlyphs">t</tspan>es</text>
<text transform="translate(1923.8 841.4)" x="0.0 15.3 30.7 46.0 61.4 76.7 92.0 107.4 122.7 138.1" y="0" font-size="28.5" >70 <tspan textLength="14.3" lengthAdjust="spacingAndGlyphs">M</tspan><tspan textLength="9.5" lengthAdjust="spacingAndGlyphs">i</tspan>nu<tspan textLength="9.5" lengthAdjust="spacingAndGlyphs">t</tspan>es</text>
<text transform="translate(1923.8 880.7)" x="0.0 15.3 30.7 46.0 61.4 76.7 92.0 107.4 122.7 138.1" y="0" font-size="28.5" >90 <tspan textLength="14.3" lengthAdjust="spacingAndGlyphs">M</tspan><tspan textLength="9.5" lengthAdjust="spacingAndGlyphs">i</tspan>nu<tspan textLength="9.5" lengthAdjust="spacingAndGlyphs">t</tspan>es</text>
<text transform="translate(255.5 949.4) scale(0.900 1)" x="0.0 16.5 33.0" y="0" font-size="28.3" >100</text>
<text transform="translate(362.4 949.4) scale(0.900 1)" x="0.0 16.5 33.0" y="0" font-size="28.3" >200</text>
<text transform="translate(469.4 949.4) scale(0.900 1)" x="0.0 16.5 33.0" y="0" font-size="28.3" >300</text>
<text transform="translate(578.5 949.4) scale(0.900 1)" x="0.0 16.5 33.0" y="0" font-size="28.3" >400</text>
<text transform="translate(685.4 949.4) scale(0.900 1)" x="0.0 16.5 33.0" y="0" font-size="28.3" >500</text>
<text transform="translate(792.6 949.4) scale(0.900 1)" x="0.0 16.5 33.0" y="0" font-size="28.3" >600</text>
<text transform="translate(899.6 949.4) scale(0.900 1)" x="0.0 16.5 33.0" y="0" font-size="28.3" >700</text>
<text transform="translate(1008.6 949.4) scale(0.900 1)" x="0.0 16.5 33.0" y="0" font-size="28.3" >800</text>
<text transform="translate(1115.6 949.4) scale(0.900 1)" x="0.0 16.5 33.0" y="0" font-size="28.3" >900</text>
<text transform="translate(1215.1 949.4) scale(0.900 1)" x="0.0 16.5 33.0 49.5" y="0" font-size="28.3" >1000</text>
<text transform="translate(1322.1 949.4) scale(0.900 1)" x="0.0 16.5 33.0 49.5" y="0" font-size="28.3" >1100</text>
<text transform="translate(1431.4 949.4) scale(0.900 1)" x="0.0 16.5 33.0 49.5" y="0" font-size="28.3" >1200</text>
<text transform="translate(1538.3 949.4) scale(0.900 1)" x="0.0 16.5 33.0 49.5" y="0" font-size="28.3" >1300</text>
<text transform="translate(1645.4 949.4) scale(0.900 1)" x="0.0 16.5 33.0 49.5" y="0" font-size="28.3" >1400</text>
<text transform="translate(1752.3 949.4) scale(0.900 1)" x="0.0 16.5 33.0 49.5" y="0" font-size="28.3" >1500</text>
<text transform="translate(1861.8 949.4) scale(0.900 1)" x="0.0 16.5 33.0 49.5" y="0" font-size="28.3" >1600</text>
<text transform="translate(1968.9 949.4) scale(0.900 1)" x="0.0 16.5 33.0 49.5" y="0" font-size="28.3" >1700</text>
<text transform="translate(2075.9 949.4) scale(0.900 1)" x="0.0 16.5 33.0 49.5" y="0" font-size="28.3" >1800</text>
<text transform="translate(248.5 894.0) scale(0.900 1)" x="0.0" y="0" font-size="28.3" >0</text>
<text transform="translate(218.8 837.4) scale(0.900 1)" x="0.0 16.5 33.0" y="0" font-size="28.3" >200</text>
<text transform="translate(218.8 780.7) scale(0.900 1)" x="0.0 16.5 33.0" y="0" font-size="28.3" >400</text>
<text transform="translate(218.8 723.9) scale(0.900 1)" x="0.0 16.5 33.0" y="0" font-size="28.3" >600</text>
<text transform="translate(218.8 666.9) scale(0.900 1)" x="0.0 16.5 33.0" y="0" font-size="28.3" >800</text>
<text transform="translate(203.9 608.0) scale(0.900 1)" x="0.0 16.5 33.0 49.5" y="0" font-size="28.3" >1000</text>
<text transform="translate(203.9 551.1) scale(0.900 1)" x="0.0 16.5 33.0 49.5" y="0" font-size="28.3" >1200</text>
<text transform="translate(203.9 494.3) scale(0.900 1)" x="0.0 16.5 33.0 49.5" y="0" font-size="28.3" >1400</text>
<text transform="translate(203.9 437.5) scale(0.900 1)" x="0.0 16.5 33.0 49.5" y="0" font-size="28.3" >1600</text>
<text transform="translate(203.9 380.9) scale(0.900 1)" x="0.0 16.5 33.0 49.5" y="0" font-size="28.3" >1800</text>
<text transform="translate(203.9 323.9) scale(0.900 1)" x="0.0 16.5 33.0 49.5" y="0" font-size="28.3" >2000</text>
<text transform="translate(203.9 267.2) scale(0.900 1)" x="0.0 16.5 33.0 49.5" y="0" font-size="28.3" >2200</text>
<text transform="translate(203.9 210.3) scale(0.900 1)" x="0.0 16.5 33.0 49.5" y="0" font-size="28.3" >2400</text>
<text transform="translate(1033.7 995.5)" x="0.0 17.5 35.0 52.5 70.0 87.5 105.0 122.5 140.0 157.5 175.0 192.5 210.0" y="0" font-size="34.0" ><tspan textLength="16.3" lengthAdjust="spacingAndGlyphs">W</tspan>avenu<tspan textLength="16.3" lengthAdjust="spacingAndGlyphs">m</tspan>ber <tspan font-size="44.2" dy="3.4" textLength="17.5" lengthAdjust="spacingAndGlyphs">/</tspan><tspan dy="-3.4"> </tspan></text>
<g transform="translate(175.5 788) rotate(-90)"><text transform="translate(0.0 0.0)" x="0.0 17.5 35.0 52.5 70.0 87.5 105.0 122.5 140.0 157.5 175.0 192.5 210.0 227.5 245.0 262.5 280.0 297.5 315.0" y="0" font-size="34.0" ><tspan textLength="16.3" lengthAdjust="spacingAndGlyphs">R</tspan>a<tspan textLength="16.3" lengthAdjust="spacingAndGlyphs">m</tspan>an <tspan textLength="16.3" lengthAdjust="spacingAndGlyphs">S</tspan>ca<tspan textLength="10.8" lengthAdjust="spacingAndGlyphs">t</tspan><tspan textLength="10.8" lengthAdjust="spacingAndGlyphs">t</tspan>er<tspan textLength="10.8" lengthAdjust="spacingAndGlyphs">i</tspan>ng <tspan font-size="44.2" dy="3.4" textLength="17.5" lengthAdjust="spacingAndGlyphs">/</tspan><tspan dy="-3.4"> </tspan></text></g>
</g>
<text x="1252.5" y="996.5" font-family="'DejaVu Sans',sans-serif" font-style="italic" font-size="35" fill="#222">cm<tspan font-style="normal" font-size="24" dx="2" dy="-12.7">−1</tspan></text>
<text transform="translate(175.5 464.5) rotate(-90)" font-family="'DejaVu Sans',sans-serif" font-style="italic" font-size="34.5" fill="#222">Photons</text>
</svg>
<p class="cap" id="note" style="top:278px"><span class="cj">积分时间<span class="co">：</span></span>10 s<br><span class="cj">测试距离<span class="co">：</span></span>50 mm</p>
<p class="cap" id="title">ZSM-5<span class="cj">分子筛催化甲醇制二甲醚实时反应监测</span></p>
</body></html>
